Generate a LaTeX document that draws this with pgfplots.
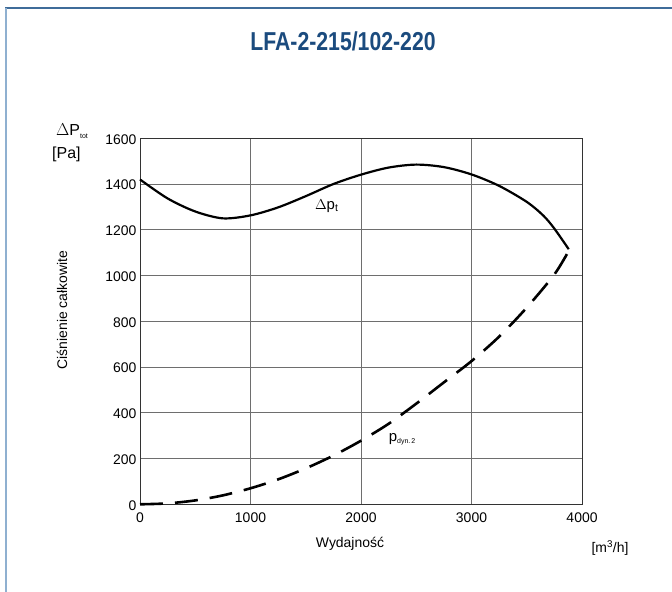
\documentclass[border=0pt]{standalone}
\usepackage{pgfplots}
\pgfplotsset{compat=1.18}
\usepackage{fontspec}
\setmainfont{Liberation Sans}
\newfontfamily\titlefont{Liberation Sans}[FakeStretch=0.82]
\definecolor{titleblue}{HTML}{1B4B7E}
\definecolor{frametop}{HTML}{3F6C9A}
\definecolor{frameleft}{HTML}{8FB0D0}
\definecolor{gridgray}{HTML}{6E6E6E}
\begin{document}
\begin{tikzpicture}[x=1bp,y=1bp]
\useasboundingbox (0,0) rectangle (672,592);
\draw[frametop,line width=1.2bp] (5,584) -- (672,584);
\draw[frameleft,line width=2bp] (6,584) -- (6,0);
\node[font=\titlefont\bfseries\fontsize{26}{29}\selectfont,text=titleblue] at (343,551) {LFA-2-215/102-220};
\begin{axis}[
  at={(140bp,87.7bp)}, anchor=south west,
  scale only axis, width=442bp, height=366bp,
  xmin=0, xmax=4000, ymin=0, ymax=1600,
  xtick={0,1000,2000,3000,4000},
  ytick={0,200,400,600,800,1000,1200,1400,1600},
  grid=major,
  major grid style={gridgray,line width=0.8bp},
  axis line style={black!80,line width=0.9bp},
  tick style={draw=none},
  ticklabel style={font=\fontsize{14}{16}\selectfont},
  /pgf/number format/assume math mode=true,
  /pgf/number format/1000 sep={},
  xticklabel style={yshift=-5bp},
  yticklabel style={xshift=0bp,yshift=-1bp},
  clip=false,
]
\addplot[black,line width=2.2bp,smooth] coordinates {
(0,1420)(250,1337)(500,1280)(750,1250)(1000,1263)(1250,1298)(1500,1347)(1750,1400)(2000,1441)(2250,1472)(2500,1485)(2750,1474)(3000,1442)(3250,1392)(3500,1322)(3650,1262)(3750,1205)(3880,1115)
};
\addplot[black,line width=2.6bp,smooth,dash pattern=on 23bp off 12bp] coordinates {
(0,0)(250,4)(500,17)(750,39)(1000,70)(1250,109)(1500,157)(1750,213)(2000,278)(2250,352)(2500,440)(2750,533)(3000,626)(3250,733)(3500,860)(3750,1005)(3880,1108)
};
\node[font=\fontsize{15}{17}\selectfont] at (axis cs:1690,1305) {$\Delta$p\textsubscript{t}};
\node[anchor=west,font=\fontsize{15}{17}\selectfont,inner sep=0pt] at (axis cs:2250,285) {p\textsubscript{\fontsize{7}{8}\selectfont dyn.\,2}};
\end{axis}
\node[font=\fontsize{14}{16}\selectfont] at (350,48) {Wydajność};
\node[font=\fontsize{14}{16}\selectfont] at (610,44) {[m\textsuperscript{3}/h]};
\node[font=\fontsize{14}{16}\selectfont,rotate=90] at (62,282) {Ciśnienie całkowite};
\node[font=\fontsize{16}{18}\selectfont,anchor=west,inner sep=0pt] at (56,461) {$\Delta$P\textsubscript{\fontsize{7}{8}\selectfont tot}};
\node[font=\fontsize{16}{18}\selectfont,anchor=west,inner sep=0pt] at (52,438) {[Pa]};
\end{tikzpicture}
\end{document}
